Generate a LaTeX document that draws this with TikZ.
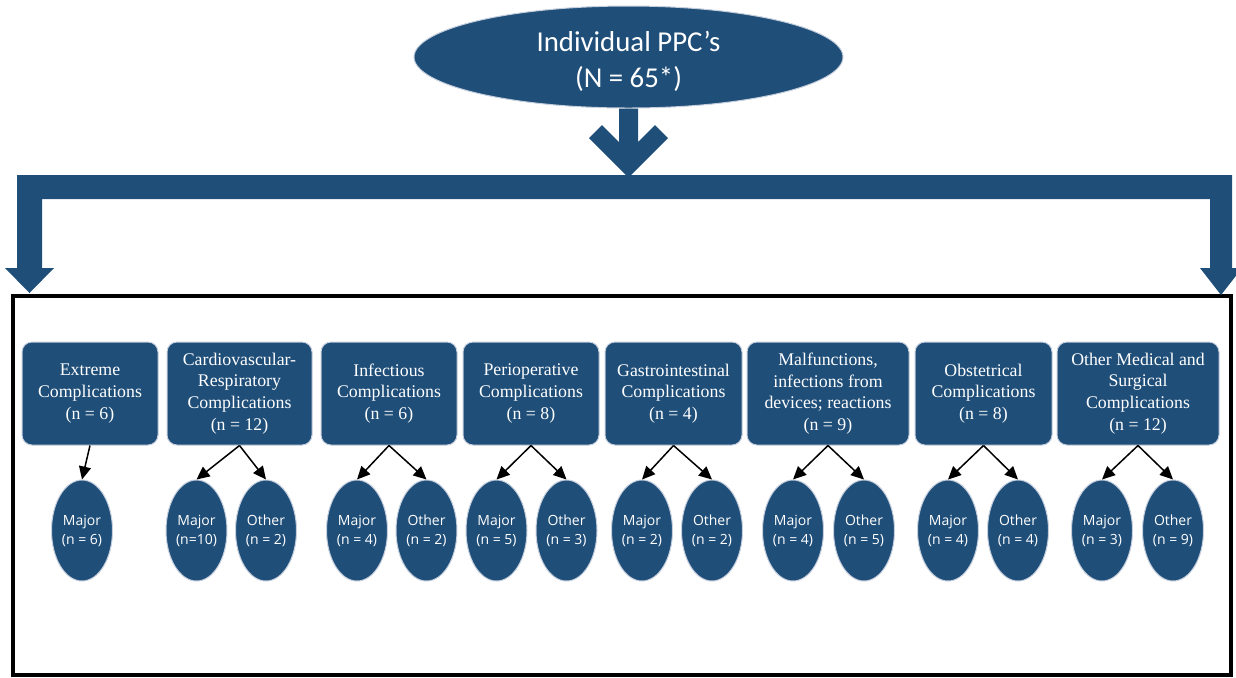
\documentclass[tikz,border=0pt]{standalone}
\usepackage{fontspec}
\setmainfont{Liberation Serif}
\newfontfamily\calibrifont{Carlito}
\newfontfamily\ellipsefont{Open Sans}
\usetikzlibrary{shapes.geometric,arrows.meta}
\definecolor{ppcblue}{RGB}{31,78,121}
\definecolor{ppcrim}{RGB}{196,206,220}
\tikzset{
 topnode/.style={ellipse,fill=ppcblue,draw=ppcrim,line width=.5pt,text=white,align=center,inner sep=0pt,minimum width=214.5pt,minimum height=51pt,font=\calibrifont\fontsize{14.4}{18}\selectfont},
 catnode/.style={rectangle,rounded corners=5pt,fill=ppcblue,draw=ppcrim,line width=.5pt,text=white,align=center,inner sep=0pt,minimum height=51.5pt,font=\fontsize{8.9}{10.8}\selectfont},
 subnode/.style={ellipse,fill=ppcblue,draw=ppcrim,line width=.5pt,text=white,align=center,inner sep=0pt,minimum width=30.5pt,minimum height=50.5pt,font=\ellipsefont\fontsize{7}{9.5}\selectfont},
 split/.style={-{Triangle[length=6.5pt,width=6pt]},line width=.75pt,black}
}
\newcommand{\category}[4]{%
 \node[catnode,minimum width={#3}] ({#1}) at ({#2}) {#4};%
}
\newcommand{\outcome}[3]{%
 \node[subnode] ({#1}) at ({#2}) {#3};%
}

\begin{document}
\begin{tikzpicture}[x=0.5pt,y=-0.5pt]
   \useasboundingbox (0,0) rectangle (1236,677);
   \clip (0,0) rectangle (1236,677);
   \node[topnode] (top) at (628.5,57) {\rule{0pt}{14pt}Individual PPC’s\\(N = 65*)};
   \fill[ppcblue,shift={(top.south)}] (-9.5,0) -- (-9.5,33.5) -- (-26.5,16.5) -- (-39.5,29.5) -- (0,69) -- (39.5,29.5) -- (26.5,16.5) -- (9.5,33.5) -- (9.5,0) -- cycle;
   \draw[line width=1.6pt] (13,296) rectangle (1231,675);
   \fill[ppcblue] (17,175) -- (1232,175) -- (1232,268) -- (1242,268) -- (1221,295) -- (1200,268) -- (1210,268) -- (1210,199) -- (42,199) -- (42,268) -- (54,268) -- (29.5,293) -- (5,268) -- (17,268) -- cycle;
   \category{c1}{  90,393.5}{68pt}{Extreme\\Complications\\(n = 6)}
   \category{c2}{ 239.5,393.5}{72.5pt}{Cardiovascular-\\Respiratory\\Complications\\(n = 12)}
   \category{c3}{ 389,393.5}{68pt}{Infectious\\Complications\\(n = 6)}
   \category{c4}{ 531,393.5}{68pt}{Perioperative\\Complications\\(n = 8)}
   \category{c5}{ 673.5,393.5}{68.5pt}{Gastrointestinal\\Complications\\(n = 4)}
   \category{c6}{ 828,393.5}{81pt}{Malfunctions,\\infections from\\devices; reactions\\(n = 9)}
   \category{c7}{ 983.5,393.5}{68.5pt}{Obstetrical\\Complications\\(n = 8)}
   \category{c8}{1138,393.5}{81pt}{Other Medical and\\Surgical\\Complications\\(n = 12)}
   \outcome{ma1}{  82,530.5}{Major\\(n = 6)}
   \outcome{ma2}{ 196.5,530.5}{Major\\(n=10)}
   \outcome{ot2}{ 266,530.5}{Other\\(n = 2)}
   \outcome{ma3}{ 357,530.5}{Major\\(n = 4)}
   \outcome{ot3}{ 426.5,530.5}{Other\\(n = 2)}
   \outcome{ma4}{ 496.5,530.5}{Major\\(n = 5)}
   \outcome{ot4}{ 566.5,530.5}{Other\\(n = 3)}
   \outcome{ma5}{ 642,530.5}{Major\\(n = 2)}
   \outcome{ot5}{ 712,530.5}{Other\\(n = 2)}
   \outcome{ma6}{ 793,530.5}{Major\\(n = 4)}
   \outcome{ot6}{ 864,530.5}{Other\\(n = 5)}
   \outcome{ma7}{ 948,530.5}{Major\\(n = 4)}
   \outcome{ot7}{1018,530.5}{Other\\(n = 4)}
   \outcome{ma8}{1102,530.5}{Major\\(n = 3)}
   \outcome{ot8}{1173,530.5}{Other\\(n = 9)}
   \draw[split] (c1.south) -- (ma1.north);
   \draw[split] (c2.south) -- (ma2.north);
   \draw[split] (c2.south) -- (ot2.north);
   \draw[split] (c3.south) -- (ma3.north);
   \draw[split] (c3.south) -- (ot3.north);
   \draw[split] (c4.south) -- (ma4.north);
   \draw[split] (c4.south) -- (ot4.north);
   \draw[split] (c5.south) -- (ma5.north);
   \draw[split] (c5.south) -- (ot5.north);
   \draw[split] (c6.south) -- (ma6.north);
   \draw[split] (c6.south) -- (ot6.north);
   \draw[split] (c7.south) -- (ma7.north);
   \draw[split] (c7.south) -- (ot7.north);
   \draw[split] (c8.south) -- (ma8.north);
   \draw[split] (c8.south) -- (ot8.north);
\end{tikzpicture}
\end{document}
